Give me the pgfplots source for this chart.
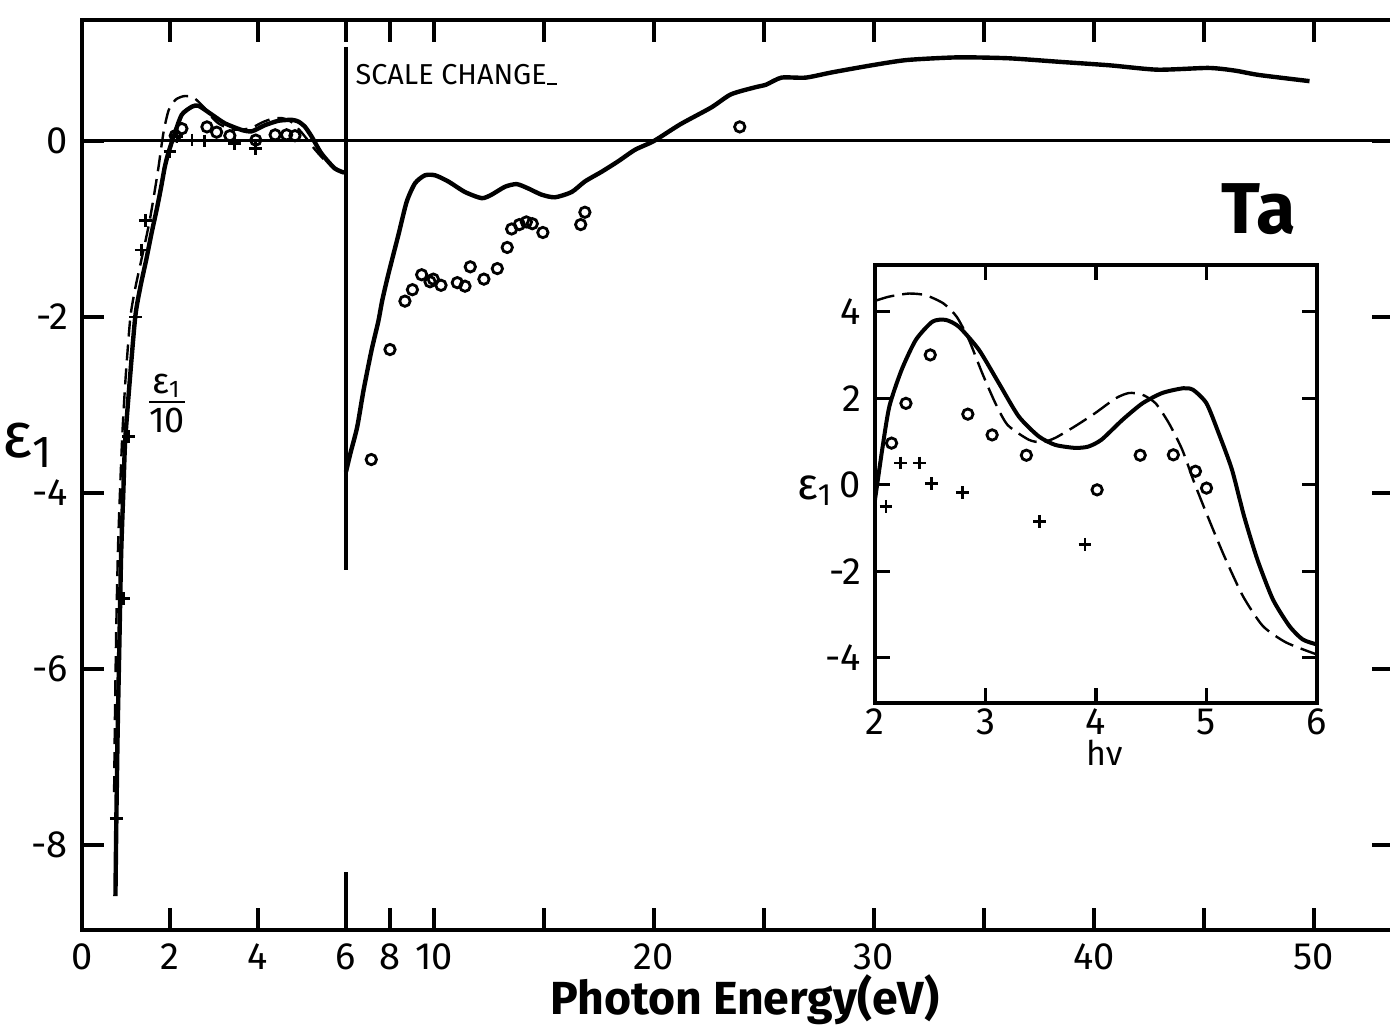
\documentclass[border=0pt]{standalone}
\usepackage{fontspec}
\setmainfont{Fira Sans}
\usepackage{pgfplots}
\usepackage{pgfplotstable}
\pgfplotsset{compat=1.18}

% main chart, 0-6 eV part (values as plotted: eps1/10)
\pgfplotstableread{
E eps
0.76 -8.58
0.78 -7.74
0.81 -6.72
0.85 -5.70
0.89 -4.69
0.94 -3.98
0.98 -3.42
1.07 -2.82
1.21 -2.00
1.33 -1.65
1.46 -1.35
1.58 -1.05
1.71 -0.75
1.80 -0.52
1.88 -0.30
1.96 -0.14
2.11 0.09
2.27 0.30
2.50 0.39
2.65 0.40
2.95 0.30
3.25 0.20
3.63 0.125
3.86 0.11
4.16 0.18
4.47 0.23
4.77 0.24
4.92 0.22
5.07 0.16
5.22 0.05
5.44 -0.14
5.74 -0.31
5.96 -0.36
}\leftsolid

\pgfplotstableread{
E eps
0.73 -7.40
0.75 -6.50
0.78 -5.50
0.82 -4.60
0.87 -3.90
0.92 -3.30
0.99 -2.70
1.10 -2.00
1.22 -1.65
1.35 -1.35
1.54 -0.90
1.72 -0.36
1.85 0.09
1.97 0.35
2.13 0.47
2.32 0.51
2.51 0.50
2.66 0.44
2.85 0.34
2.97 0.26
3.10 0.20
3.25 0.16
3.45 0.13
3.65 0.13
3.86 0.15
4.09 0.21
4.31 0.25
4.54 0.26
4.75 0.22
4.95 0.12
5.10 0.03
5.30 -0.10
5.50 -0.21
5.75 -0.31
5.93 -0.35
}\leftdashed

\pgfplotstableread{
E eps
0.78 -7.70
0.94 -5.20
1.06 -3.36
1.21 -2.00
1.35 -1.24
1.44 -0.90
2.00 -0.12
2.16 0.05
2.50 0.01
2.79 0.00
3.47 -0.03
3.95 -0.09
}\leftcross

\pgfplotstableread{
E eps
2.12 0.06
2.27 0.14
2.84 0.16
3.06 0.10
3.36 0.06
3.95 0.01
4.39 0.07
4.65 0.07
4.84 0.06
}\leftcirc

% main chart, 6-50 eV part
\pgfplotstableread{
E eps
6.00 -3.76
6.20 -3.55
6.51 -3.25
6.80 -2.83
7.16 -2.38
7.47 -2.05
7.65 -1.81
7.92 -1.52
8.38 -1.07
8.76 -0.69
9.14 -0.48
9.59 -0.39
10.05 -0.39
10.65 -0.46
11.41 -0.58
12.17 -0.65
12.62 -0.61
13.23 -0.52
13.76 -0.49
14.29 -0.54
14.89 -0.61
15.50 -0.64
16.26 -0.58
16.86 -0.46
17.62 -0.35
18.38 -0.23
19.14 -0.10
20.00 0.00
21.20 0.19
22.60 0.38
23.50 0.53
24.60 0.61
25.10 0.64
25.80 0.72
26.90 0.72
28.10 0.78
29.90 0.86
31.50 0.92
33.80 0.95
36.10 0.94
38.40 0.90
40.70 0.86
42.90 0.81
45.20 0.83
46.40 0.80
47.50 0.75
49.80 0.68
}\rightsolid

\pgfplotstableread{
E eps
7.15 -3.62
8.00 -2.37
8.68 -1.82
9.02 -1.69
9.44 -1.52
9.82 -1.60
9.97 -1.57
10.32 -1.64
11.06 -1.61
11.41 -1.65
11.65 -1.43
12.27 -1.57
12.88 -1.45
13.33 -1.21
13.53 -1.00
13.88 -0.95
14.20 -0.92
14.47 -0.94
14.95 -1.04
16.67 -0.95
16.86 -0.81
23.90 0.16
}\rightcirc

% inset
\pgfplotstableread{
E eps
2.00 -0.35
2.065 0.81
2.13 1.81
2.24 2.65
2.37 3.35
2.52 3.77
2.64 3.81
2.76 3.65
2.94 3.12
3.12 2.35
3.30 1.58
3.48 1.12
3.63 0.92
3.81 0.85
3.93 0.88
4.05 1.04
4.24 1.50
4.42 1.88
4.60 2.12
4.79 2.23
4.88 2.19
5.00 1.88
5.11 1.19
5.23 0.35
5.34 -0.73
5.46 -1.73
5.60 -2.65
5.75 -3.27
5.87 -3.58
5.99 -3.69
}\insolid

\pgfplotstableread{
E eps
2.00 4.25
2.13 4.35
2.31 4.42
2.46 4.38
2.62 4.19
2.74 3.88
2.85 3.35
2.97 2.58
3.09 1.88
3.20 1.38
3.39 1.04
3.51 0.98
3.63 1.08
3.81 1.35
3.99 1.65
4.18 2.00
4.30 2.12
4.42 2.08
4.54 1.88
4.66 1.42
4.78 0.81
4.89 0.04
5.01 -0.73
5.16 -1.65
5.33 -2.58
5.51 -3.27
5.72 -3.65
5.99 -3.92
}\indashed

\pgfplotstableread{
E eps
2.15 0.96
2.28 1.88
2.50 3.00
2.84 1.63
3.06 1.15
3.37 0.68
4.01 -0.12
4.40 0.68
4.70 0.69
4.90 0.31
5.00 -0.08
}\incirc

\pgfplotstableread{
E eps
2.10 -0.50
2.23 0.50
2.40 0.50
2.51 0.02
2.79 -0.19
3.49 -0.85
3.90 -1.38
}\incross

\begin{document}
\begin{tikzpicture}
\useasboundingbox (-20.5pt,-24.25pt) rectangle (327pt,232.5pt);
\begin{axis}[
  at={(0pt,0pt)}, anchor=south west,
  scale only axis, width=328pt, height=227.5pt,
  xmin=0, xmax=59.64, ymin=-8.966, ymax=1.375,
  axis line style={line width=0.9pt},
  every tick/.style={black, line width=0.9pt},
  major tick length=5.5pt,
  xtick={0,4,8,12,14,16,21,26,31,36,41,46,51,56},
  xticklabels={0,2,4,6,8,10,,20,,30,,40,,50},
  ytick={-8,-6,-4,-2,0}, yticklabels={-8,-6,-4,-2,0},
  /pgf/number format/assume math mode=true,
  tick label style={font=\fontsize{9.5}{10}\selectfont},
  xlabel={Photon Energy(eV)},
  xlabel style={font=\fontsize{11.6}{13}\selectfont\bfseries,
    at={(axis description cs:0.5053,0)}, anchor=center, yshift=-17.5pt},
  ylabel={ε\textsubscript{1}},
  ylabel style={rotate=-90, at={(axis description cs:-0.0413,0.533)},
    anchor=center, font=\fontsize{16}{18}\selectfont},
]
\draw[line width=0.75pt] (axis cs:0,0) -- (axis cs:59.64,0);
\pgfplotsinvokeforeach{14,16,21,26,31,36,41,46,51}{
  \draw[line width=0.75pt] (axis cs:#1,0) ++(0,-3pt) -- ++(0,6pt);
}
\draw[line width=0.8pt] (axis cs:12,1.07) -- (axis cs:12,-4.88);
\draw[line width=0.9pt] (axis cs:12,-8.966) -- (axis cs:12,-8.31);

\addplot[black, line width=1.1pt, smooth, tension=0.4] table[x expr=2*\thisrow{E}, y=eps]{\leftsolid};
\addplot[black, line width=0.6pt, smooth, tension=0.4, dash pattern=on 4pt off 2pt] table[x expr=2*\thisrow{E}, y=eps]{\leftdashed};
\addplot[only marks, mark=+, mark size=1.6pt, mark options={line width=0.7pt, black}] table[x expr=2*\thisrow{E}, y=eps]{\leftcross};
\addplot[only marks, mark=o, mark size=1.3pt, mark options={line width=0.7pt, black}] table[x expr=2*\thisrow{E}, y=eps]{\leftcirc};
\addplot[black, line width=1.1pt, smooth, tension=0.4] table[x expr=\thisrow{E}+6, y=eps]{\rightsolid};
\addplot[only marks, mark=o, mark size=1.3pt, mark options={line width=0.7pt, black}] table[x expr=\thisrow{E}+6, y=eps]{\rightcirc};

\node[anchor=west, inner sep=0pt, font=\fontsize{7.2}{8}\selectfont] at (axis cs:12.4,0.75) {SCALE CHANGE\rule{2.5pt}{0.4pt}};
\node[font=\fontsize{18}{20}\selectfont\bfseries] at (axis cs:53.5,-0.78) {Ta};
\node[font=\fontsize{9}{10}\selectfont, inner sep=0pt] at (axis cs:3.86,-3.0)
  {\begin{tabular}{@{}c@{}}ε\textsubscript{1}\\[-1pt]\hline\rule{0pt}{7.5pt}10\end{tabular}};
\end{axis}

\begin{axis}[
  at={(198.25pt,56.75pt)}, anchor=south west,
  scale only axis, width=110.5pt, height=109.5pt,
  xmin=2, xmax=6, ymin=-5.05, ymax=5.08,
  axis line style={line width=0.9pt},
  every tick/.style={black, line width=0.8pt},
  major tick length=3.75pt,
  xtick={2,3,4,5,6}, xticklabels={2,3,4,5,6},
  ytick={-4,-2,0,2,4}, yticklabels={-4,-2,0,2,4},
  tick label style={font=\fontsize{9.5}{10}\selectfont},
  xticklabel style={yshift=2pt},
  xlabel={hν},
  xlabel style={font=\fontsize{8.5}{9}\selectfont,
    at={(axis description cs:0.52,0)}, anchor=center, yshift=-12.5pt},
  ylabel={ε\textsubscript{1}},
  ylabel style={rotate=-90, at={(axis description cs:-0.135,0.485)},
    anchor=center, font=\fontsize{11}{12}\selectfont},
]
\addplot[black, line width=1pt, smooth, tension=0.4] table[x=E, y=eps]{\insolid};
\addplot[black, line width=0.6pt, smooth, tension=0.4, dash pattern=on 5pt off 2pt] table[x=E, y=eps]{\indashed};
\addplot[only marks, mark=o, mark size=1.3pt, mark options={line width=0.7pt, black}] table[x=E, y=eps]{\incirc};
\addplot[only marks, mark=+, mark size=1.6pt, mark options={line width=0.7pt, black}] table[x=E, y=eps]{\incross};
\end{axis}
\end{tikzpicture}
\end{document}
